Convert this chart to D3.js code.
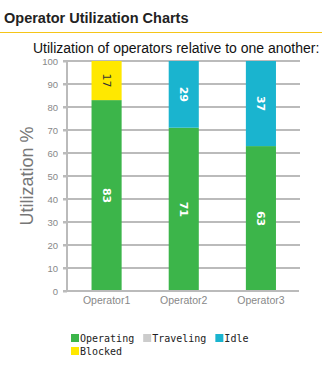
<!DOCTYPE html>
<html><head><meta charset="utf-8">
<script src="https://cdn.jsdelivr.net/npm/d3@7"></script>
<style>
body{margin:0;background:#fff;}
svg{display:block;}
</style></head><body>
<svg id="c" width="322" height="365"></svg>
<script>
const categories = ["Operator1","Operator2","Operator3"];
const seriesNames = ["Operating","Traveling","Idle","Blocked"];
const operating = [83,71,63];
const traveling = [0,0,0];
const idle = [0,29,37];
const blocked = [17,0,0];
const yTicks = [0,10,20,30,40,50,60,70,80,90,100];
const colors = ["#3cb54a","#cccccc","#1ab4cf","#ffe800"];

const svg = d3.select("#c");
svg.append("text").attr("x",4).attr("y",23).attr("font-family","Arial, Liberation Sans, sans-serif")
  .attr("font-weight","bold").attr("font-size",14.5).attr("fill","#222").text("Operator Utilization Charts");
svg.append("line").attr("x1",0).attr("x2",322).attr("y1",32.5).attr("y2",32.5).attr("stroke","#f5c518").attr("stroke-width",1);
svg.append("text").attr("x",33).attr("y",53).attr("font-family","Arial, Liberation Sans, sans-serif")
  .attr("font-size",14).attr("fill","#111").text("Utilization of operators relative to one another:");

const x = d3.scaleBand().domain(categories).range([68,299.5]).paddingInner(0.61).paddingOuter(0.305);
const y = d3.scaleLinear().domain([0,100]).range([291,61]);

const g = svg.append("g");
g.selectAll("line.grid").data(yTicks.filter(d=>d>0)).join("line")
  .attr("x1",63).attr("x2",300).attr("y1",d=>y(d)).attr("y2",d=>y(d))
  .attr("stroke","#bbb").attr("stroke-width",2);

const yAxis = d3.axisLeft(y).tickValues(yTicks).tickSize(4).tickPadding(5);
const ya = svg.append("g").attr("transform","translate(67,0)").call(yAxis);
ya.select(".domain").attr("stroke","#bbb").attr("stroke-width",2).attr("d","M0,"+y(100)+"V"+y(0));
ya.selectAll(".tick line").attr("stroke","#bbb").attr("stroke-width",2);
ya.selectAll(".tick text").attr("fill","#888").attr("font-size",9.5).attr("font-family","Arial, Liberation Sans, sans-serif");

const stackData = categories.map((c,i)=>({cat:c,Operating:operating[i],Traveling:traveling[i],Idle:idle[i],Blocked:blocked[i]}));
const stacked = d3.stack().keys(seriesNames)(stackData);
stacked.forEach((s,si)=>{
  const sg = svg.append("g");
  sg.selectAll("rect").data(s).join("rect")
    .attr("x",d=>x(d.data.cat)).attr("width",x.bandwidth())
    .attr("y",d=>y(d[1])).attr("height",d=>y(d[0])-y(d[1]))
    .attr("fill",colors[si]);
  sg.selectAll("text").data(s.filter(d=>d[1]-d[0]>0)).join("text")
    .attr("transform",d=>`translate(${x(d.data.cat)+x.bandwidth()/2},${(y(d[0])+y(d[1]))/2}) rotate(90)`)
    .attr("text-anchor","middle").attr("dy","0.35em")
    .attr("font-family","DejaVu Sans, sans-serif").attr("font-weight",si===3?"normal":"bold").attr("font-size",11)
    .attr("fill",si===3?"#333":"#fff").text(d=>d[1]-d[0]);
});

const xa = svg.append("g").attr("transform","translate(0,291)").call(d3.axisBottom(x).tickSize(0).tickPadding(6));
xa.select(".domain").attr("stroke","#bbb").attr("stroke-width",2).attr("d","M63,0H299");
xa.selectAll(".tick text").attr("fill","#888").attr("font-size",10.5).attr("font-family","Arial, Liberation Sans, sans-serif");

svg.append("text").attr("transform","translate(33,176) rotate(-90)").attr("text-anchor","middle")
  .attr("font-family","Arial, Liberation Sans, sans-serif").attr("font-size",18).attr("fill","#777").text("Utilization %");

const lg = svg.append("g").attr("font-family","DejaVu Sans Mono, monospace").attr("font-size",10).attr("fill","#222");
let items=[];
let cx=71;
[0,1,2].forEach(i=>{items.push({i,x:cx,y:342}); cx += 9 + seriesNames[i].length*6.02 + 9;});
items.push({i:3,x:71,y:355});
items.forEach(it=>{
  lg.append("rect").attr("x",it.x).attr("y",it.y-8).attr("width",8).attr("height",8).attr("fill",colors[it.i]);
  lg.append("text").attr("x",it.x+9).attr("y",it.y).text(seriesNames[it.i]);
});
</script>
</body></html>
